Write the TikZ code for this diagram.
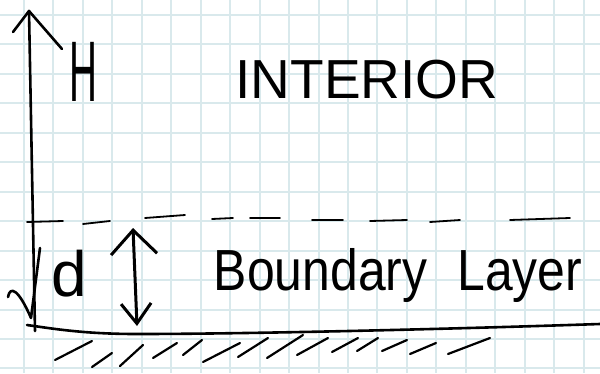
\documentclass[tikz,border=0pt]{standalone}
\usepackage{fontspec}
\setmainfont{Liberation Sans}
\usetikzlibrary{arrows.meta}
\definecolor{gridc}{RGB}{217,233,236}
\begin{document}
\begin{tikzpicture}[x=1pt,y=-1pt,
  pen/.style={line width=2.6pt, line cap=round, line join=round, black},
  gridline/.style={line width=2pt, gridc},
  hatch/.style={line width=2.2pt, line cap=round, black},
  dashseg/.style={line width=1.8pt, line cap=round, black},
  lbl/.style={inner sep=0pt, anchor=base}]
\useasboundingbox[fill=white] (0,0) rectangle (600,373);
% grid paper
\foreach \k in {0,...,19} \draw[gridline] ({24+29.45*\k},0) -- ({24+29.45*\k},373);
\foreach \k in {0,...,12} \draw[gridline] (0,{15+29.45*\k}) -- (600,{15+29.45*\k});
% vertical axis
\coordinate (axisBot) at (35,331);
\coordinate (axisTop) at (29,11);
\draw[pen] (axisBot) -- (axisTop);
\draw[pen] (13,32) -- (axisTop) -- (62,49);
% labels
\node[lbl, font=\fontsize{86}{86}\selectfont, xscale=0.45] (H) at (83,101) {H};
\node[lbl, font=\fontsize{55}{55}\selectfont] (interior) at (367,98) {INTERIOR};
\node[lbl, font=\fontsize{64}{64}\selectfont] (d) at (69,296) {d};
\node[lbl, font=\fontsize{58}{58}\selectfont, xscale=0.86] (bl) at (398,290) {Boundary\hspace{0.6em}Layer};
% dashed boundary-layer edge
\foreach \a/\b/\ya/\yb in {27/63/222/221, 83/110/224/221, 145/185/218/215, 212/233/219/218, 250/280/218/218, 312/343/220/220, 370/407/221/220, 430/460/222/220, 510/570/220/218}
  \draw[dashseg] (\a,\ya) -- (\b,\yb);
% small down arrow along the axis
\draw[pen] (8,297) .. controls (10,286) and (18,288) .. (31,318) -- (40,248);
% double arrow for thickness d
\coordinate (blTop) at (133,228);
\coordinate (blBot) at (137,326);
\draw[pen, line width=3pt, {Straight Barb[length=24pt,width=46pt]}-{Straight Barb[length=20pt,width=30pt]}] (blTop) -- (blBot);
% wall
\coordinate (g0) at (27,325);
\coordinate (g1) at (137,334);
\coordinate (g2) at (600,324);
\draw[pen] (g0) .. controls (55,329) and (85,334) .. (g1) .. controls (250,334) and (450,329) .. (g2);
% hatching
\foreach \a/\b/\c/\e in {55/360/92/341, 92/367/112/353, 120/366/143/345, 153/358/177/343, 183/355/202/340, 203/362/240/343, 238/357/268/338, 267/358/303/335, 297/355/328/338, 332/352/358/338, 357/351/378/338, 382/351/407/340, 410/354/436/343, 448/354/490/338}
  \draw[hatch] (\a,\b) -- (\c,\e);
\end{tikzpicture}
\end{document}
